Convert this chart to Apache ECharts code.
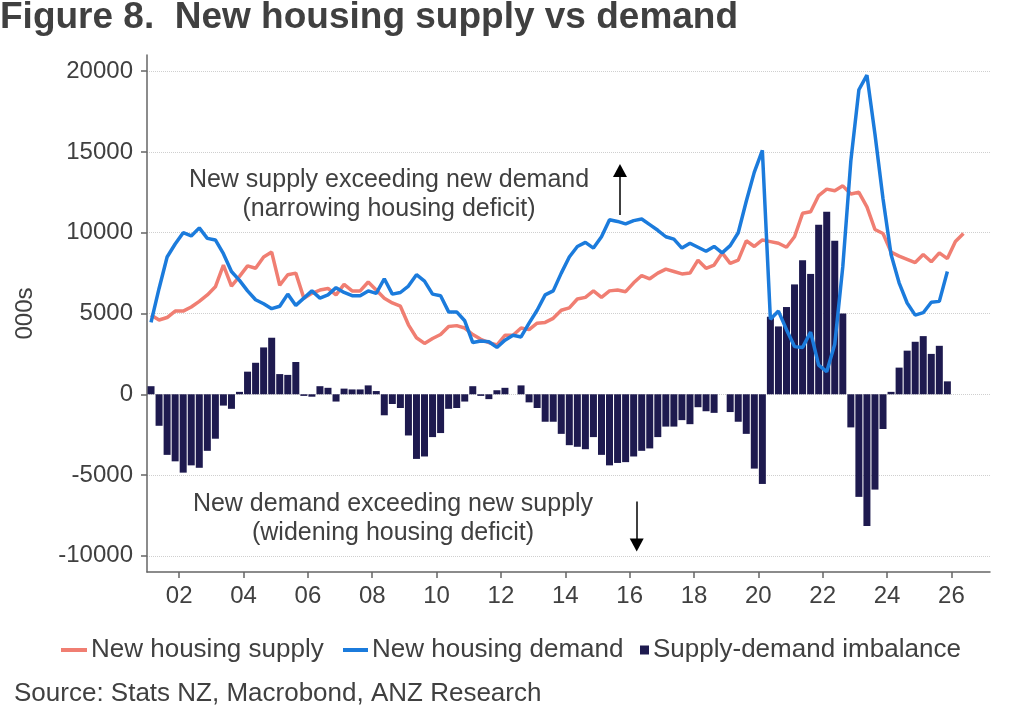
<!DOCTYPE html>
<html>
<head>
<meta charset="utf-8">
<title>New housing supply vs demand</title>
<script src="https://cdn.jsdelivr.net/npm/echarts@6/dist/echarts.min.js"></script>
<style>
  html, body { margin: 0; padding: 0; background: #fff; }
  #chart { width: 1024px; height: 724px; }
</style>
</head>
<body>
<div id="chart"></div>
<script>
// quarterly data, first point is 2001 Q1
const startYear = 2001;

// new housing supply (000s), 2001 Q1 - 2026 Q2
const supply = [
  4900, 4600, 4750, 5150, 5150, 5400, 5750, 6150, 6650, 8000,
  6700, 7300, 7950, 7800, 8500, 8800, 6750, 7400, 7500, 5950,
  6250, 6450, 6550, 6150, 6800, 6400, 6400, 6950, 6450, 5950,
  5650, 5450, 4300, 3500, 3150, 3450, 3700, 4200, 4250, 4100,
  3700, 3400, 3200, 3050, 3650, 3650, 4100, 4000, 4400, 4450,
  4700, 5200, 5350, 5900, 6000, 6400, 6000, 6400, 6450, 6350,
  6900, 7350, 7150, 7500, 7750, 7600, 7450, 7500, 8300, 7800,
  8000, 8750, 8100, 8300, 9500, 9150, 9550, 9450, 9350, 9100,
  9750, 11200, 11300, 12300, 12700, 12600, 12900, 12400, 12500, 11600,
  10200, 9950, 8800, 8550, 8350, 8150, 8650, 8200, 8750, 8400,
  9450, 9950
];

// new housing demand (000s), 2001 Q1 - 2025 Q4
const demand = [
  4450, 6550, 8500, 9300, 10000, 9800, 10300, 9650, 9550, 8700,
  7600, 7050, 6400, 5850, 5600, 5300, 5450, 6200, 5500, 5950,
  6400, 5950, 6150, 6600, 6300, 6100, 6100, 6400, 6250, 7150,
  6200, 6300, 6700, 7400, 7000, 6200, 6100, 5100, 5100, 4550,
  3200, 3300, 3250, 2900, 3350, 3650, 3550, 4400, 5200, 6150,
  6400, 7500, 8500, 9150, 9400, 9050, 9750, 10800, 10700, 10550,
  10750, 10850, 10500, 10150, 9750, 9600, 9050, 9350, 9100, 8850,
  9150, 8750, 9200, 10000, 11950, 13750, 15100, 4650, 5150, 4000,
  2950, 2900, 3850, 1800, 1400, 3100, 7900, 14450, 18850, 19750,
  16100, 12100, 8650, 6900, 5650, 4900, 5050, 5700, 5750, 7600
];

// supply minus demand, 2001 Q1 - 2025 Q4
const imbalance = [
  500, -1950, -3750, -4150, -4850, -4400, -4550, -3500, -2750, -700,
  -900, 150, 1400, 1950, 2900, 3500, 1250, 1200, 2000, -100,
  -150, 500, 400, -450, 350, 300, 300, 550, 200, -1300,
  -600, -850, -2550, -4000, -3850, -2650, -2400, -900, -850, -450,
  500, -100, -300, 250, 400, 0, 550, -500, -850, -1700,
  -1700, -2450, -3150, -3250, -3400, -2650, -3750, -4400, -4250, -4200,
  -3850, -3500, -3350, -2650, -2000, -2000, -1600, -1850, -800, -1050,
  -1150, 0, -1100, -1700, -2450, -4600, -5550, 4800, 4200, 5400,
  6800, 8300, 7450, 10500, 11300, 9500, 5000, -2050, -6350, -8150,
  -5900, -2150, 150, 1650, 2700, 3250, 3600, 2500, 3000, 800
];

const yearTicks = [2002, 2004, 2006, 2008, 2010, 2012, 2014, 2016, 2018, 2020, 2022, 2024, 2026];
const valueTicks = [-10000, -5000, 0, 5000, 10000, 15000, 20000];

const font = 'Liberation Sans, Arial, sans-serif';
const textColor = '#404040';

// place each quarter at its midpoint on a decimal-year axis
const toPoints = arr => arr.map((v, i) => [startYear + i / 4 + 0.125, v]);

const chart = echarts.init(document.getElementById('chart'));

chart.setOption({
  animation: false,
  textStyle: { fontFamily: font },
  title: [
    {
      text: 'Figure 8.  New housing supply vs demand',
      left: 0,
      top: -1,
      padding: 0,
      textStyle: { fontSize: 37, fontWeight: 'bold', color: textColor, fontFamily: font }
    },
    {
      text: 'Source: Stats NZ, Macrobond, ANZ Research',
      left: 14,
      top: 681,
      padding: 0,
      textStyle: { fontSize: 26, fontWeight: 'normal', color: textColor, fontFamily: font }
    }
  ],
  legend: [
    {
      data: ['New housing supply'],
      left: 61, top: 637, padding: 0,
      icon: 'rect', itemWidth: 26, itemHeight: 4,
      textStyle: { fontSize: 26, color: textColor, padding: [0, 0, 0, -1] }
    },
    {
      data: ['New housing demand'],
      left: 343, top: 637, padding: 0,
      icon: 'rect', itemWidth: 25, itemHeight: 4,
      textStyle: { fontSize: 26, color: textColor, padding: [0, 0, 0, -1] }
    },
    {
      data: ['Supply-demand imbalance'],
      left: 640, top: 637, padding: 0,
      icon: 'rect', itemWidth: 9, itemHeight: 9,
      textStyle: { fontSize: 26, color: textColor, padding: [0, 0, 0, -1] }
    }
  ],
  grid: { left: 147, right: 34, top: 55, bottom: 152 },
  xAxis: {
    type: 'value',
    min: 2001,
    max: 2027.2,
    axisLine: { show: true, onZero: false, lineStyle: { color: '#666', width: 1.5 } },
    axisTick: { show: true, length: 6, customValues: yearTicks, lineStyle: { color: '#666', width: 1.5 } },
    axisLabel: {
      customValues: yearTicks,
      formatter: v => String(v).slice(2),
      fontSize: 24, color: textColor, margin: 12
    },
    splitLine: { show: false }
  },
  yAxis: {
    type: 'value',
    min: -11000,
    max: 21000,
    name: '000s',
    nameLocation: 'middle',
    nameGap: 110,
    nameTextStyle: { fontSize: 24, color: textColor },
    axisLine: { show: true, lineStyle: { color: '#666', width: 1.5 } },
    axisTick: { show: true, length: 6, customValues: valueTicks, lineStyle: { color: '#666', width: 1.5 } },
    axisLabel: {
      customValues: valueTicks,
      formatter: v => String(v),
      fontSize: 24, color: textColor, margin: 14
    },
    splitLine: { show: true, lineStyle: { color: '#cfcfcf', type: 'dotted', width: 1 } }
  },
  series: [
    {
      name: 'Supply-demand imbalance',
      type: 'bar',
      barWidth: 7,
      itemStyle: { color: '#1E1A4F' },
      data: toPoints(imbalance),
      z: 1
    },
    {
      name: 'New housing supply',
      type: 'line',
      symbol: 'none',
      color: '#F07E72',
      lineStyle: { width: 3.5, color: '#F07E72' },
      data: toPoints(supply),
      z: 3,
      markLine: {
        silent: true,
        label: { show: false },
        lineStyle: { color: '#000', width: 1.5, type: 'solid' },
        symbolSize: [14, 13],
        data: [
          [{ coord: [2015.70, 11100], symbol: 'none' }, { coord: [2015.70, 13850], symbol: 'triangle' }],
          [{ coord: [2016.22, -6630], symbol: 'none' }, { coord: [2016.22, -9330], symbol: 'triangle' }]
        ]
      }
    },
    {
      name: 'New housing demand',
      type: 'line',
      symbol: 'none',
      color: '#1B7BDC',
      lineStyle: { width: 3.5, color: '#1B7BDC' },
      data: toPoints(demand),
      z: 4
    }
  ],
  graphic: [
    {
      type: 'text',
      style: {
        x: 389, y: 195,
        text: 'New supply exceeding new demand\n(narrowing housing deficit)',
        align: 'center', verticalAlign: 'middle',
        lineHeight: 29,
        fill: textColor,
        font: '25px ' + font
      }
    },
    {
      type: 'text',
      style: {
        x: 393, y: 519,
        text: 'New demand exceeding new supply\n(widening housing deficit)',
        align: 'center', verticalAlign: 'middle',
        lineHeight: 29,
        fill: textColor,
        font: '25px ' + font
      }
    }
  ]
});
</script>
</body>
</html>
